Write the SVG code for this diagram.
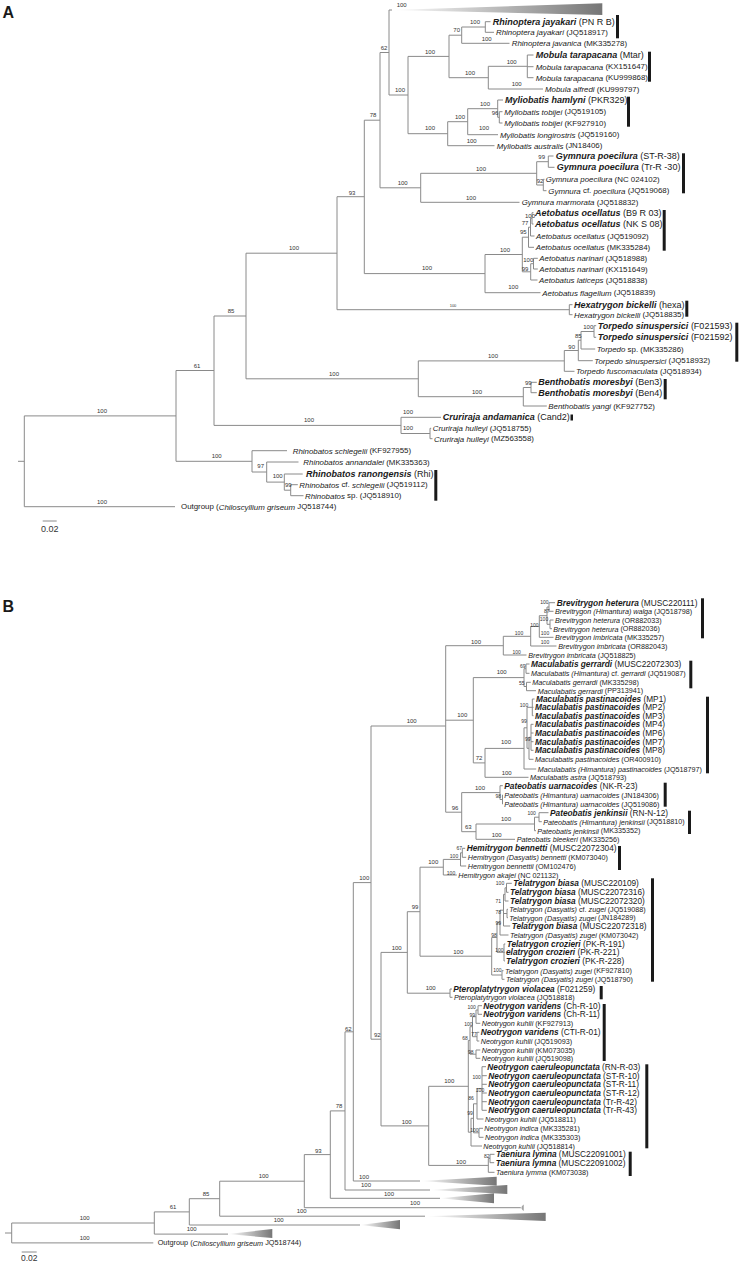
<svg xmlns="http://www.w3.org/2000/svg" width="741" height="1264" viewBox="0 0 741 1264">
<defs>
<linearGradient id="g" x1="0" y1="0" x2="1" y2="0"><stop offset="0" stop-color="#ffffff"/><stop offset="1" stop-color="#767676"/></linearGradient>
<style>
.e{fill:none;stroke:#8a8a8a;stroke-width:1}
text{font-family:"Liberation Sans",Arial,sans-serif;fill:#1a1a1a;dominant-baseline:central}
.la{font-size:7.9px}
.lab{font-size:9px}
.lb{font-size:7.2px}
.lbb{font-size:8.3px}
.i{font-style:italic}
.bi{font-style:italic;font-weight:bold}
.n{font-size:6px;fill:#333;text-anchor:middle}
.ns{font-size:5px;fill:#333;text-anchor:middle}
.nt{font-size:4px;fill:#333;text-anchor:middle}
.bar{fill:#1a1a1a}
.tri{fill:url(#g);stroke:none}
.pl{font-size:16px;font-weight:bold;dominant-baseline:auto}
.sc{font-size:9px;fill:#333;text-anchor:middle}
</style>
</defs>
<rect width="741" height="1264" fill="#ffffff"/>
<text class="pl" x="2.5" y="18">A</text>
<text class="pl" x="2.5" y="612">B</text>

<g id="A-edges">
<path class="e" d="M18 461.3H24.3M24.3 415.9V506.7M24.3 415.9H176M24.3 506.7H175"/>
<path class="e" d="M176 370.5V461.3M176 370.5H214M176 461.3H252"/>
<path class="e" d="M214 316V425.4M214 316H246M214 425.4H401"/>
<path class="e" d="M246 253.2V378.8M246 253.2H337M246 378.8H418.3"/>
<path class="e" d="M337 196.7V309.7M337 196.7H364.3M337 309.7H569.3"/>
<path class="e" d="M364.3 120.2V273.6M364.3 120.2H380M364.3 273.6H485"/>
<path class="e" d="M380 52.5V187.8M380 52.5H389M380 187.8H420.7"/>
<path class="e" d="M389 10V95M389 10H392M389 95H408"/>
<path class="e" d="M408 56.4V133.7M408 56.4H449M408 133.7H447.7"/>
<path class="e" d="M449 35.2V77.7M449 35.2H461.7M449 77.7H488.3"/>
<path class="e" d="M461.7 27V43.3M461.7 27H485.3M461.7 43.3H509.5"/>
<path class="e" d="M485.3 21.7V32.3M485.3 21.7H490.5M485.3 32.3H494"/>
<path class="e" d="M488.3 66.3V89M488.3 66.3H527.3M488.3 89H543"/>
<path class="e" d="M527.3 55V77.7M527.3 55H533.5M527.3 66.7H533.5M527.3 77.7H533.5"/>
<path class="e" d="M447.7 121.7V145.7M447.7 121.7H467.7M447.7 145.7H494.5"/>
<path class="e" d="M467.7 108.7V134.7M467.7 108.7H497.7M467.7 134.7H498"/>
<path class="e" d="M497.7 100V117.3M497.7 100H503M497.7 117.3H499.3"/>
<path class="e" d="M499.3 111.7V123M499.3 111.7H502.5M499.3 123H502.5"/>
<path class="e" d="M420.7 173.3V202.3M420.7 173.3H536.7M420.7 202.3H519.5"/>
<path class="e" d="M536.7 161.7V185M536.7 161.7H548.3M536.7 185H543.3"/>
<path class="e" d="M548.3 156V167.3M548.3 156H553.5M548.3 167.3H554.5"/>
<path class="e" d="M543.3 179.3V190.7M543.3 179.3H544.5M543.3 190.7H546.5"/>
<path class="e" d="M485 254.5V292.7M485 254.5H522.3M485 292.7H540.5"/>
<path class="e" d="M522.3 237.2V271.8M522.3 237.2H528.5M522.3 271.8H530.7"/>
<path class="e" d="M528.5 227.2V247.3M528.5 227.2H530.5M528.5 247.3H534"/>
<path class="e" d="M530.5 218.3V236M530.5 218.3H532M530.5 236H534.5"/>
<path class="e" d="M532 212.7V224M532 212.7H533.5M532 224H533.5"/>
<path class="e" d="M530.7 263.7V280M530.7 263.7H533.5M530.7 280H537.5"/>
<path class="e" d="M533.5 258.3V269M533.5 258.3H537.8M533.5 269H537.8"/>
<path class="e" d="M569.3 304.7V314.7M569.3 304.7H572.5M569.3 314.7H572.5"/>
<path class="e" d="M418.3 360.9V396.7M418.3 360.9H564.3M418.3 396.7H523.3"/>
<path class="e" d="M564.3 350.5V371.3M564.3 350.5H578.3M564.3 371.3H574.5"/>
<path class="e" d="M578.3 340.2V360.7M578.3 340.2H581M578.3 360.7H592.8"/>
<path class="e" d="M581 331.5V349M581 331.5H594M581 349H595.2"/>
<path class="e" d="M594 325.7V337.3M594 325.7H596.2M594 337.3H596.2"/>
<path class="e" d="M523.3 387.5V406M523.3 387.5H531M523.3 406H546.8"/>
<path class="e" d="M531 382.3V392.7M531 382.3H536.8M531 392.7H536.8"/>
<path class="e" d="M401 417.3V433.5M401 417.3H441M401 433.5H430"/>
<path class="e" d="M430 428.3V438.7M430 428.3H431.2M430 438.7H432.5"/>
<path class="e" d="M252 450.7V472M252 450.7H287M252 472H266.7"/>
<path class="e" d="M266.7 462V482.1M266.7 462H298.5M266.7 482.1H284.3"/>
<path class="e" d="M284.3 474V490.2M284.3 474H302.7M284.3 490.2H290.7"/>
<path class="e" d="M290.7 484.7V495.7M290.7 484.7H297.8M290.7 495.7H303.5"/>
<polygon class="tri" points="391,10 602.3,3.3 602.3,15"/>
<path class="e" d="M42.7 521H56.7"/>
</g>

<g id="A-supports">
<text class="n" x="401.7" y="5">100</text>
<text class="n" x="475" y="22.3">100</text>
<text class="n" x="456.7" y="30">70</text>
<text class="n" x="486.7" y="39">100</text>
<text class="n" x="384" y="47.7">62</text>
<text class="n" x="430" y="51.7">100</text>
<text class="n" x="511.7" y="61.7">100</text>
<text class="n" x="470" y="72.7">100</text>
<text class="n" x="516.7" y="84.3">100</text>
<text class="n" x="400" y="90">100</text>
<text class="n" x="485" y="104">100</text>
<text class="n" x="495" y="113.3">96</text>
<text class="n" x="373" y="115.4">78</text>
<text class="n" x="460" y="116.7">100</text>
<text class="n" x="484" y="128.3">100</text>
<text class="n" x="430" y="128.3">100</text>
<text class="n" x="471.7" y="140.7">100</text>
<text class="n" x="541.7" y="157.3">99</text>
<text class="n" x="481" y="169">100</text>
<text class="n" x="540" y="180.7">92</text>
<text class="n" x="402.7" y="183.3">100</text>
<text class="n" x="352" y="192.5">93</text>
<text class="n" x="471" y="197.7">100</text>
<text class="n" x="530" y="215.7">100</text>
<text class="n" x="525" y="223.3">77</text>
<text class="n" x="523.3" y="231.7">95</text>
<text class="n" x="294" y="248.2">100</text>
<text class="n" x="505" y="250">100</text>
<text class="n" x="528.3" y="260">100</text>
<text class="n" x="427" y="268.3">100</text>
<text class="n" x="525" y="269.3">99</text>
<text class="n" x="513.3" y="287.3">100</text>
<text class="nt" x="453" y="305">100</text>
<text class="n" x="588.3" y="327.3">100</text>
<text class="n" x="578.3" y="335.7">85</text>
<text class="n" x="571.7" y="346.7">90</text>
<text class="n" x="493" y="356">100</text>
<text class="n" x="231" y="311">85</text>
<text class="n" x="197" y="365.6">61</text>
<text class="n" x="334" y="373.5">100</text>
<text class="n" x="528.3" y="383.3">99</text>
<text class="n" x="477" y="392">100</text>
<text class="n" x="102" y="411">100</text>
<text class="n" x="408" y="412">100</text>
<text class="n" x="309" y="420">100</text>
<text class="n" x="408" y="427.7">100</text>
<text class="n" x="216.7" y="456">100</text>
<text class="n" x="260.7" y="466.4">97</text>
<text class="n" x="277.7" y="476.3">100</text>
<text class="n" x="288.3" y="484.6">99</text>
<text class="n" x="102" y="502">100</text>
<text class="sc" x="49.7" y="529">0.02</text>
</g>

<g id="A-bars">
<rect class="bar" x="616" y="15" width="3" height="23.3"/>
<rect class="bar" x="648" y="51.7" width="3" height="30"/>
<rect class="bar" x="627" y="96.7" width="3" height="30"/>
<rect class="bar" x="682" y="153.3" width="3" height="40"/>
<rect class="bar" x="662.7" y="210" width="3" height="40.7"/>
<rect class="bar" x="685.3" y="300.7" width="3" height="16"/>
<rect class="bar" x="735.3" y="322.7" width="3" height="39"/>
<rect class="bar" x="663.7" y="379" width="3" height="20.3"/>
<rect class="bar" x="570.5" y="414.5" width="2.5" height="6"/>
<rect class="bar" x="434.3" y="470" width="3" height="30.7"/>
</g>

<g id="A-leaves">
<g id="A-l01"><text class="lab" x="492.7" y="21.7"><tspan class="bi">Rhinoptera jayakari</tspan> (PN R B)</text></g>
<g id="A-l02"><text class="la" x="496" y="32.3"><tspan class="i">Rhinoptera jayakari</tspan> (JQ518917)</text></g>
<g id="A-l03"><text class="la" x="511.7" y="43.3"><tspan class="i">Rhinoptera javanica</tspan> (MK335278)</text></g>
<g id="A-l04"><text class="lab" x="535.7" y="55"><tspan class="bi">Mobula tarapacana</tspan> (Mtar)</text></g>
<g id="A-l05"><text class="la" x="535.7" y="66.7"><tspan class="i">Mobula tarapacana</tspan> (KX151647)</text></g>
<g id="A-l06"><text class="la" x="535.7" y="77.7"><tspan class="i">Mobula tarapacana</tspan> (KU999868)</text></g>
<g id="A-l07"><text class="la" x="545" y="89"><tspan class="i">Mobula alfredi</tspan> (KU999797)</text></g>
<g id="A-l08"><text class="lab" x="505" y="100"><tspan class="bi">Myliobatis hamlyni</tspan> (PKR329)</text></g>
<g id="A-l09"><text class="la" x="504.3" y="111.7"><tspan class="i">Myliobatis tobijei</tspan> (JQ519105)</text></g>
<g id="A-l10"><text class="la" x="504.3" y="123"><tspan class="i">Myliobatis tobijei</tspan> (KF927910)</text></g>
<g id="A-l11"><text class="la" x="500" y="134.7"><tspan class="i">Myliobatis longirostris</tspan> (JQ519160)</text></g>
<g id="A-l12"><text class="la" x="496.7" y="145.7"><tspan class="i">Myliobatis australis</tspan> (JN18406)</text></g>
<g id="A-l13"><text class="lab" x="555.7" y="156"><tspan class="bi">Gymnura poecilura</tspan> (ST-R-38)</text></g>
<g id="A-l14"><text class="lab" x="556.7" y="167.3"><tspan class="bi">Gymnura poecilura</tspan> (Tr-R -30)</text></g>
<g id="A-l15"><text class="la" x="545.7" y="179.3"><tspan class="i">Gymnura poecilura</tspan> (NC 024102)</text></g>
<g id="A-l16"><text class="la" x="548.3" y="190.7"><tspan class="i">Gymnura</tspan> cf. <tspan class="i">poecilura</tspan> (JQ519068)</text></g>
<g id="A-l17"><text class="la" x="521.7" y="202.3"><tspan class="i">Gymnura marmorata</tspan> (JQ518832)</text></g>
<g id="A-l18"><text class="lab" x="535" y="212.7"><tspan class="bi">Aetobatus ocellatus</tspan> (B9 R 03)</text></g>
<g id="A-l19"><text class="lab" x="535" y="224"><tspan class="bi">Aetobatus ocellatus</tspan> (NK S 08)</text></g>
<g id="A-l20"><text class="la" x="536" y="236"><tspan class="i">Aetobatus ocellatus</tspan> (JQ519092)</text></g>
<g id="A-l21"><text class="la" x="535.7" y="247.3"><tspan class="i">Aetobatus ocellatus</tspan> (MK335284)</text></g>
<g id="A-l22"><text class="la" x="539.3" y="258.3"><tspan class="i">Aetobatus narinari</tspan> (JQ518988)</text></g>
<g id="A-l23"><text class="la" x="539.3" y="269"><tspan class="i">Aetobatus narinari</tspan> (KX151649)</text></g>
<g id="A-l24"><text class="la" x="539" y="280"><tspan class="i">Aetobatus laticeps</tspan> (JQ518838)</text></g>
<g id="A-l25"><text class="la" x="542.3" y="292.7"><tspan class="i">Aetobatus flagellum</tspan> (JQ518839)</text></g>
<g id="A-l26"><text class="lab" x="574" y="304.7"><tspan class="bi">Hexatrygon bickelli</tspan> (hexa)</text></g>
<g id="A-l27"><text class="la" x="574" y="314.7"><tspan class="i">Hexatrygon bickelli</tspan> (JQ518835)</text></g>
<g id="A-l28"><text class="lab" x="597.7" y="325.7"><tspan class="bi">Torpedo sinuspersici</tspan> (F021593)</text></g>
<g id="A-l29"><text class="lab" x="597.7" y="337.3"><tspan class="bi">Torpedo sinuspersici</tspan> (F021592)</text></g>
<g id="A-l30"><text class="la" x="596.7" y="349"><tspan class="i">Torpedo</tspan> sp. (MK335286)</text></g>
<g id="A-l31"><text class="la" x="594.3" y="360.7"><tspan class="i">Torpedo sinuspersici</tspan> (JQ518932)</text></g>
<g id="A-l32"><text class="la" x="576" y="371.3"><tspan class="i">Torpedo fuscomaculata</tspan> (JQ518934)</text></g>
<g id="A-l33"><text class="lab" x="538.3" y="382.3"><tspan class="bi">Benthobatis moresbyi</tspan> (Ben3)</text></g>
<g id="A-l34"><text class="lab" x="538.3" y="392.7"><tspan class="bi">Benthobatis moresbyi</tspan> (Ben4)</text></g>
<g id="A-l35"><text class="la" x="548.3" y="406"><tspan class="i">Benthobatis yangi</tspan> (KF927752)</text></g>
<g id="A-l36"><text class="lab" x="442.7" y="417.3"><tspan class="bi">Cruriraja andamanica</tspan> (Cand2)</text></g>
<g id="A-l37"><text class="la" x="432.7" y="428.3"><tspan class="i">Cruriraja hulleyi</tspan> (JQ518755)</text></g>
<g id="A-l38"><text class="la" x="434" y="438.7"><tspan class="i">Cruriraja hulleyi</tspan> (MZ563558)</text></g>
<g id="A-l39"><text class="la" x="292.7" y="450.7"><tspan class="i">Rhinobatos schlegelii</tspan> (KF927955)</text></g>
<g id="A-l40"><text class="la" x="303.3" y="462"><tspan class="i">Rhinobatos annandalei</tspan> (MK335363)</text></g>
<g id="A-l41"><text class="lab" x="306" y="474"><tspan class="bi">Rhinobatos ranongensis</tspan> (Rhi)</text></g>
<g id="A-l42"><text class="la" x="299.3" y="484.7"><tspan class="i">Rhinobatos</tspan> cf. <tspan class="i">schlegelii</tspan> (JQ519112)</text></g>
<g id="A-l43"><text class="la" x="305" y="495.7"><tspan class="i">Rhinobatos</tspan> sp. (JQ518910)</text></g>
<g id="A-l44"><text class="la" x="181" y="506.7">Outgroup (<tspan class="i">Chiloscyllium griseum</tspan> JQ518744)</text></g>
</g>

<g id="B-edges">
<path class="e" d="M5 1233H11.7M11.7 1223V1242.9M11.7 1223H154.3M11.7 1242.9H153.3"/>
<path class="e" d="M154.3 1211.9V1234.1M154.3 1211.9H189.3M154.3 1234.1H228"/>
<path class="e" d="M189.3 1198.7V1225M189.3 1198.7H219.7M189.3 1225H360"/>
<path class="e" d="M219.7 1181.2V1216.2M219.7 1181.2H304.3M219.7 1216.2H425"/>
<path class="e" d="M304.3 1154.6V1207.7M304.3 1154.6H330.3M304.3 1207.7H521"/>
<path class="e" d="M330.3 1110.9V1198.3M330.3 1110.9H345M330.3 1198.3H440"/>
<path class="e" d="M345 1031.8V1190M345 1031.8H353.3M345 1190H430"/>
<path class="e" d="M353.3 882.6V1181M353.3 882.6H371M353.3 1181H420"/>
<path class="e" d="M371 726V1039.2M371 726H445.7M371 1039.2H381"/>
<path class="e" d="M381 952.4V1125.9M381 952.4H407.3M381 1125.9H428.7"/>
<path class="e" d="M445.7 645.7V812.2M445.7 645.7H503.3M445.7 720.2H473.3M445.7 812.2H461.7"/>
<path class="e" d="M503.3 636.3V655M503.3 636.3H530.7M503.3 655H526.5"/>
<path class="e" d="M530.7 626.5V646M530.7 626.5H539.3M530.7 646H556.5"/>
<path class="e" d="M539.3 615.7V637.3M539.3 615.7H547M539.3 637.3H553.5"/>
<path class="e" d="M547 607V624.3M547 607H549M547 624.3H550"/>
<path class="e" d="M549 602.7V611.3M549 602.7H555M549 611.3H553.5"/>
<path class="e" d="M550 620V628.7M550 620H553.5M550 628.7H552"/>
<path class="e" d="M473.3 677.6V762.9M473.3 677.6H524M473.3 762.9H485"/>
<path class="e" d="M524 668.7V686.5M524 668.7H526M524 686.5H526.5"/>
<path class="e" d="M526 664V673.3M526 664H529.5M526 673.3H529.5"/>
<path class="e" d="M526.5 682.3V690.7M526.5 682.3H530.8M526.5 690.7H536"/>
<path class="e" d="M485 748.4V777.3M485 748.4H524M485 777.3H528.5"/>
<path class="e" d="M524 727.8V769M524 727.8H527M524 769H536.2"/>
<path class="e" d="M527 707.3V748.3M527 707.3H532.3M527 748.3H529"/>
<path class="e" d="M532.3 699V715.7M532.3 699H534.5M532.3 707.3H533.5M532.3 715.7H533.5"/>
<path class="e" d="M529 737.3V759.3M529 737.3H531M529 759.3H533.5"/>
<path class="e" d="M531 724.3V750.3M531 724.3H533.5M531 733H533.5M531 741.7H533.5M531 750.3H533.5"/>
<path class="e" d="M461.7 792.6V831.7M461.7 792.6H500M461.7 831.7H476"/>
<path class="e" d="M500 785.7V799.5M500 785.7H502.8M500 799.5H502.5"/>
<path class="e" d="M502.5 795V804M502.5 795H503M502.5 804H503"/>
<path class="e" d="M476 824V839.3M476 824H534.5M476 839.3H515"/>
<path class="e" d="M534.5 817.2V830.7M534.5 817.2H539M534.5 830.7H536"/>
<path class="e" d="M539 812.7V821.7M539 812.7H548.5M539 821.7H541.8"/>
<path class="e" d="M407.3 911.7V993.2M407.3 911.7H420M407.3 993.2H450"/>
<path class="e" d="M450 989V997.3M450 989H452M450 997.3H452.5"/>
<path class="e" d="M420 867.2V956.2M420 867.2H443.3M420 956.2H491.7"/>
<path class="e" d="M443.3 859.4V875M443.3 859.4H460.5M443.3 875H456.8"/>
<path class="e" d="M460.5 852.8V866M460.5 852.8H462.3M460.5 866H466.2"/>
<path class="e" d="M462.3 848.3V857.3M462.3 848.3H465.2M462.3 857.3H466.2"/>
<path class="e" d="M491.7 937.5V975M491.7 937.5H497M491.7 975H502"/>
<path class="e" d="M497 922.6V952.3M497 922.6H500M497 952.3H504"/>
<path class="e" d="M500 910.2V935M500 910.2H503.5M500 935H508.5"/>
<path class="e" d="M503.5 894.4V926M503.5 894.4H505M503.5 913.5H507M503.5 926H510.2"/>
<path class="e" d="M505 887.8V901M505 887.8H506.5M505 901H508.5"/>
<path class="e" d="M506.5 883.3V892.3M506.5 883.3H511.8M506.5 892.3H508.5"/>
<path class="e" d="M507 909.3V917.7M507 909.3H508M507 917.7H508"/>
<path class="e" d="M504 944V961M504 944H505.3M504 952.3H504.8M504 961H504.8"/>
<path class="e" d="M502 970.7V979.3M502 970.7H503.5M502 979.3H504.5"/>
<path class="e" d="M428.7 1086.3V1165.4M428.7 1086.3H468.3M428.7 1165.4H488.3"/>
<path class="e" d="M468.3 1040.4V1132.2M468.3 1040.4H470M468.3 1132.2H471"/>
<path class="e" d="M470 1026.7V1054.2M470 1026.7H472.5M470 1054.2H476"/>
<path class="e" d="M472.5 1016.7V1036.7M472.5 1016.7H476M472.5 1036.7H477"/>
<path class="e" d="M476 1010V1023.3M476 1010H478M476 1023.3H480.3"/>
<path class="e" d="M478 1005.7V1014.3M478 1005.7H482M478 1014.3H482"/>
<path class="e" d="M477 1032.3V1041M477 1032.3H479.3M477 1041H479.3"/>
<path class="e" d="M476 1050V1058.3M476 1050H480.3M476 1058.3H480.3"/>
<path class="e" d="M471 1118.3V1146M471 1118.3H473.5M471 1146H482"/>
<path class="e" d="M473.5 1103.8V1132.8M473.5 1103.8H477M473.5 1132.8H479"/>
<path class="e" d="M477 1088.5V1119M477 1088.5H482M477 1119H483.5"/>
<path class="e" d="M479 1128.3V1137.3M479 1128.3H483M479 1137.3H483.5"/>
<path class="e" d="M482 1066.7V1110.3M482 1066.7H486M482 1075.7H486.8M482 1084.3H486.8M482 1093H486.8M482 1101.7H486.8M482 1110.3H486.8"/>
<path class="e" d="M488.3 1158.5V1172.3M488.3 1158.5H490M488.3 1172.3H494.5"/>
<path class="e" d="M490 1154.3V1162.7M490 1154.3H494.5M490 1162.7H494.2"/>
<polygon class="tri" points="420,1181 496.7,1176.7 496.7,1185.7"/>
<polygon class="tri" points="430,1190 507.3,1185 507.3,1194"/>
<polygon class="tri" points="440,1198.3 494,1193.3 494,1203.3"/>
<polygon class="tri" points="520.5,1207.7 523.5,1204.5 523.5,1211"/>
<polygon class="tri" points="425,1216.2 545.7,1212.7 545.7,1221"/>
<polygon class="tri" points="360,1225 400,1220 400,1229.3"/>
<polygon class="tri" points="228,1234.1 272.3,1229 272.3,1238"/>
<path class="e" d="M21.7 1252H36.7"/>
</g>

<g id="B-supports">
<text class="n" x="476" y="641.7">100</text>
<text class="ns" x="544.3" y="601.5">100</text>
<text class="ns" x="546.7" y="610.5">87</text>
<text class="ns" x="544" y="618.8">100</text>
<text class="ns" x="534.3" y="624.5">100</text>
<text class="ns" x="545" y="633.3">100</text>
<text class="ns" x="519" y="633.3">100</text>
<text class="ns" x="545" y="641.7">100</text>
<text class="ns" x="516.7" y="651.5">100</text>
<text class="ns" x="522.7" y="665.7">69</text>
<text class="ns" x="521.7" y="682.7">55</text>
<text class="n" x="501.7" y="672.3">100</text>
<text class="n" x="462.3" y="715">100</text>
<text class="n" x="411.7" y="721">100</text>
<text class="ns" x="524" y="705">100</text>
<text class="ns" x="524" y="721">99</text>
<text class="ns" x="527.7" y="739.3">99</text>
<text class="n" x="506" y="742.3">100</text>
<text class="n" x="479" y="758.3">72</text>
<text class="n" x="506.7" y="773.3">100</text>
<text class="n" x="480" y="788.3">100</text>
<text class="ns" x="498.3" y="796">98</text>
<text class="n" x="455" y="807.7">96</text>
<text class="ns" x="531.7" y="813.3">100</text>
<text class="n" x="506" y="819.3">100</text>
<text class="n" x="468.3" y="826.7">63</text>
<text class="n" x="496.7" y="835">100</text>
<text class="ns" x="459.3" y="847.5">67</text>
<text class="ns" x="454" y="855.5">100</text>
<text class="n" x="433.3" y="861.7">100</text>
<text class="ns" x="451" y="872.7">100</text>
<text class="n" x="364.3" y="878">100</text>
<text class="ns" x="500" y="883">100</text>
<text class="ns" x="498.3" y="901.3">71</text>
<text class="n" x="415" y="907.3">99</text>
<text class="ns" x="498.3" y="912">78</text>
<text class="ns" x="498.3" y="922.7">99</text>
<text class="ns" x="494" y="935">98</text>
<text class="n" x="396.7" y="947.6">100</text>
<text class="ns" x="499.3" y="950">100</text>
<text class="n" x="458.3" y="951.7">100</text>
<text class="ns" x="497.3" y="970">100</text>
<text class="n" x="430.7" y="988.3">100</text>
<text class="ns" x="471.7" y="1006.7">100</text>
<text class="ns" x="472.3" y="1015">99</text>
<text class="ns" x="468.3" y="1024">100</text>
<text class="n" x="348.3" y="1028.8">62</text>
<text class="ns" x="474" y="1033.7">77</text>
<text class="n" x="377.3" y="1034.7">92</text>
<text class="ns" x="465" y="1037.7">68</text>
<text class="ns" x="470.7" y="1051.7">98</text>
<text class="ns" x="476.7" y="1077.3">100</text>
<text class="n" x="449.3" y="1081">100</text>
<text class="ns" x="480" y="1090">100</text>
<text class="ns" x="471" y="1097.7">86</text>
<text class="n" x="339" y="1106.4">78</text>
<text class="ns" x="470" y="1113.3">99</text>
<text class="n" x="406.7" y="1121.7">100</text>
<text class="ns" x="474.3" y="1130">100</text>
<text class="n" x="318.3" y="1150.5">93</text>
<text class="ns" x="486.7" y="1156">82</text>
<text class="n" x="461" y="1161.7">100</text>
<text class="n" x="364" y="1176.5">100</text>
<text class="n" x="263.7" y="1176.4">100</text>
<text class="n" x="366" y="1185.3">100</text>
<text class="n" x="389" y="1194">100</text>
<text class="n" x="206" y="1194">85</text>
<text class="n" x="415" y="1203.3">100</text>
<text class="n" x="173" y="1207">61</text>
<text class="n" x="301.7" y="1211.4">100</text>
<text class="n" x="84.7" y="1218.2">100</text>
<text class="n" x="278.7" y="1220.2">100</text>
<text class="n" x="191.7" y="1229">100</text>
<text class="n" x="84.7" y="1237.7">100</text>
<text class="sc" x="29.2" y="1257.6" style="font-size:8.5px">0.02</text>
</g>

<g id="B-bars">
<rect class="bar" x="701" y="598.3" width="3" height="40"/>
<rect class="bar" x="689.3" y="660.7" width="3" height="27.6"/>
<rect class="bar" x="706" y="696.7" width="3" height="76.6"/>
<rect class="bar" x="663.7" y="782.7" width="3" height="24"/>
<rect class="bar" x="688" y="810.7" width="3" height="23.3"/>
<rect class="bar" x="618" y="846" width="3" height="24"/>
<rect class="bar" x="651" y="878.3" width="3" height="103.4"/>
<rect class="bar" x="599.7" y="986" width="3" height="13.3"/>
<rect class="bar" x="602.7" y="1004" width="3" height="57"/>
<rect class="bar" x="645.3" y="1064.3" width="3" height="84"/>
<rect class="bar" x="628.7" y="1151.7" width="3" height="24.3"/>
</g>

<g id="B-leaves">
<g id="B-l01"><text class="lbb" x="556.7" y="602.7"><tspan class="bi">Brevitrygon heterura</tspan> (MUSC220111)</text></g>
<g id="B-l02"><text class="lb" x="555" y="611.3"><tspan class="i">Brevitrygon (Himantura) walga</tspan> (JQ518798)</text></g>
<g id="B-l03"><text class="lb" x="555" y="620"><tspan class="i">Brevitrygon heterura</tspan> (OR882033)</text></g>
<g id="B-l04"><text class="lb" x="553.3" y="628.7"><tspan class="i">Brevitrygon heterura</tspan> (OR882036)</text></g>
<g id="B-l05"><text class="lb" x="555" y="637.3"><tspan class="i">Brevitrygon imbricata</tspan> (MK335257)</text></g>
<g id="B-l06"><text class="lb" x="558.3" y="646"><tspan class="i">Brevitrygon imbricata</tspan> (OR882043)</text></g>
<g id="B-l07"><text class="lb" x="528.3" y="655"><tspan class="i">Brevitrygon imbricata</tspan> (JQ518825)</text></g>
<g id="B-l08"><text class="lbb" x="531" y="664"><tspan class="bi">Maculabatis gerrardi</tspan> (MUSC22072303)</text></g>
<g id="B-l09"><text class="lb" x="531" y="673.3"><tspan class="i">Maculabatis (Himantura)</tspan> cf. <tspan class="i">gerrardi</tspan> (JQ519087)</text></g>
<g id="B-l10"><text class="lb" x="532.3" y="682.3"><tspan class="i">Maculabatis gerrardi</tspan> (MK335298)</text></g>
<g id="B-l11"><text class="lb" x="537.7" y="690.7"><tspan class="i">Maculabatis gerrardi</tspan> (PP313941)</text></g>
<g id="B-l12"><text class="lbb" x="536" y="699"><tspan class="bi">Maculabatis pastinacoides</tspan> (MP1)</text></g>
<g id="B-l13"><text class="lbb" x="535" y="707.3"><tspan class="bi">Maculabatis pastinacoides</tspan> (MP2)</text></g>
<g id="B-l14"><text class="lbb" x="535" y="715.7"><tspan class="bi">Maculabatis pastinacoides</tspan> (MP3)</text></g>
<g id="B-l15"><text class="lbb" x="535" y="724.3"><tspan class="bi">Maculabatis pastinacoides</tspan> (MP4)</text></g>
<g id="B-l16"><text class="lbb" x="535" y="733"><tspan class="bi">Maculabatis pastinacoides</tspan> (MP6)</text></g>
<g id="B-l17"><text class="lbb" x="535" y="741.7"><tspan class="bi">Maculabatis pastinacoides</tspan> (MP7)</text></g>
<g id="B-l18"><text class="lbb" x="535" y="750.3"><tspan class="bi">Maculabatis pastinacoides</tspan> (MP8)</text></g>
<g id="B-l19"><text class="lb" x="535" y="759.3"><tspan class="i">Maculabatis pastinacoides</tspan> (OR400910)</text></g>
<g id="B-l20"><text class="lb" x="537.7" y="769"><tspan class="i">Maculabatis (Himantura) pastinacoides</tspan> (JQ518797)</text></g>
<g id="B-l21"><text class="lb" x="530" y="777.3"><tspan class="i">Maculabatis astra</tspan> (JQ518793)</text></g>
<g id="B-l22"><text class="lbb" x="504.3" y="785.7"><tspan class="bi">Pateobatis uarnacoides</tspan> (NK-R-23)</text></g>
<g id="B-l23"><text class="lb" x="504.3" y="795"><tspan class="i">Pateobatis (Himantura) uarnacoides</tspan> (JN184306)</text></g>
<g id="B-l24"><text class="lb" x="504.3" y="804"><tspan class="i">Pateobatis (Himantura) uarnacoides</tspan> (JQ519086)</text></g>
<g id="B-l25"><text class="lbb" x="550" y="812.7"><tspan class="bi">Pateobatis jenkinsii</tspan> (RN-N-12)</text></g>
<g id="B-l26"><text class="lb" x="543.3" y="821.7"><tspan class="i">Pateobatis (Himantura) jenkinsii</tspan> (JQ518810)</text></g>
<g id="B-l27"><text class="lb" x="537.3" y="830.7"><tspan class="i">Pateobatis jenkinsii</tspan> (MK335352)</text></g>
<g id="B-l28"><text class="lb" x="516.7" y="839.3"><tspan class="i">Pateobatis bleekeri</tspan> (MK335256)</text></g>
<g id="B-l29"><text class="lbb" x="466.7" y="848.3"><tspan class="bi">Hemitrygon bennetti</tspan> (MUSC22072304)</text></g>
<g id="B-l30"><text class="lb" x="467.7" y="857.3"><tspan class="i">Hemitrygon (Dasyatis) bennetti</tspan> (KM073040)</text></g>
<g id="B-l31"><text class="lb" x="467.7" y="866"><tspan class="i">Hemitrygon bennettii</tspan> (OM102476)</text></g>
<g id="B-l32"><text class="lb" x="458.3" y="875"><tspan class="i">Hemitrygon akajei</tspan> (NC 021132)</text></g>
<g id="B-l33"><text class="lbb" x="513.3" y="883.3"><tspan class="bi">Telatrygon biasa</tspan> (MUSC220109)</text></g>
<g id="B-l34"><text class="lbb" x="510" y="892.3"><tspan class="bi">Telatrygon biasa</tspan> (MUSC22072316)</text></g>
<g id="B-l35"><text class="lbb" x="510" y="901"><tspan class="bi">Telatrygon biasa</tspan> (MUSC22072320)</text></g>
<g id="B-l36"><text class="lb" x="509.3" y="909.3"><tspan class="i">Telatrygon (Dasyatis)</tspan> cf. <tspan class="i">zugei</tspan> (JQ519088)</text></g>
<g id="B-l37"><text class="lb" x="509.3" y="917.7"><tspan class="i">Telatrygon (Dasyatis) zugei</tspan> (JN184289)</text></g>
<g id="B-l38"><text class="lbb" x="511.7" y="926"><tspan class="bi">Telatrygon biasa</tspan> (MUSC22072318)</text></g>
<g id="B-l39"><text class="lb" x="510" y="935"><tspan class="i">Telatrygon (Dasyatis) zugei</tspan> (KM073042)</text></g>
<g id="B-l40"><text class="lbb" x="506.7" y="944"><tspan class="bi">Telatrygon crozieri</tspan> (PK-R-191)</text></g>
<g id="B-l41"><text class="lbb" x="506" y="952.3"><tspan class="bi">elatrygon crozieri</tspan> (PK-R-221)</text></g>
<g id="B-l42"><text class="lbb" x="506" y="961"><tspan class="bi">Telatrygon crozieri</tspan> (PK-R-228)</text></g>
<g id="B-l43"><text class="lb" x="505" y="970.7"><tspan class="i">Telatrygon (Dasyatis) zugei</tspan> (KF927810)</text></g>
<g id="B-l44"><text class="lb" x="506" y="979.3"><tspan class="i">Telatrygon (Dasyatis) zugei</tspan> (JQ518790)</text></g>
<g id="B-l45"><text class="lbb" x="453.3" y="989"><tspan class="bi">Pteroplatytrygon violacea</tspan> (F021259)</text></g>
<g id="B-l46"><text class="lb" x="454" y="997.3"><tspan class="i">Pteroplatytrygon violacea</tspan> (JQ518818)</text></g>
<g id="B-l47"><text class="lbb" x="483.3" y="1005.7"><tspan class="bi">Neotrygon varidens</tspan> (Ch-R-10)</text></g>
<g id="B-l48"><text class="lbb" x="483.3" y="1014.3"><tspan class="bi">Neotrygon varidens</tspan> (Ch-R-11)</text></g>
<g id="B-l49"><text class="lb" x="481.7" y="1023.3"><tspan class="i">Neotrygon kuhlii</tspan> (KF927913)</text></g>
<g id="B-l50"><text class="lbb" x="480.7" y="1032.3"><tspan class="bi">Neotrygon varidens</tspan> (CTI-R-01)</text></g>
<g id="B-l51"><text class="lb" x="480.7" y="1041"><tspan class="i">Neotrygon kuhlii</tspan> (JQ519093)</text></g>
<g id="B-l52"><text class="lb" x="481.7" y="1050"><tspan class="i">Neotrygon kuhlii</tspan> (KM073035)</text></g>
<g id="B-l53"><text class="lb" x="481.7" y="1058.3"><tspan class="i">Neotrygon kuhlii</tspan> (JQ519098)</text></g>
<g id="B-l54"><text class="lbb" x="487.3" y="1066.7"><tspan class="bi">Neotrygon caeruleopunctata</tspan> (RN-R-03)</text></g>
<g id="B-l55"><text class="lbb" x="488.3" y="1075.7"><tspan class="bi">Neotrygon caeruleopunctata</tspan> (ST-R-10)</text></g>
<g id="B-l56"><text class="lbb" x="488.3" y="1084.3"><tspan class="bi">Neotrygon caeruleopunctata</tspan> (ST-R-11)</text></g>
<g id="B-l57"><text class="lbb" x="488.3" y="1093"><tspan class="bi">Neotrygon caeruleopunctata</tspan> (ST-R-12)</text></g>
<g id="B-l58"><text class="lbb" x="488.3" y="1101.7"><tspan class="bi">Neotrygon caeruleopunctata</tspan> (Tr-R-42)</text></g>
<g id="B-l59"><text class="lbb" x="488.3" y="1110.3"><tspan class="bi">Neotrygon caeruleopunctata</tspan> (Tr-R-43)</text></g>
<g id="B-l60"><text class="lb" x="485" y="1119"><tspan class="i">Neotrygon kuhlii</tspan> (JQ518811)</text></g>
<g id="B-l61"><text class="lb" x="484.3" y="1128.3"><tspan class="i">Neotrygon indica</tspan> (MK335281)</text></g>
<g id="B-l62"><text class="lb" x="485" y="1137.3"><tspan class="i">Neotrygon indica</tspan> (MK335303)</text></g>
<g id="B-l63"><text class="lb" x="483.3" y="1146"><tspan class="i">Neotrygon kuhlii</tspan> (JQ518814)</text></g>
<g id="B-l64"><text class="lbb" x="496" y="1154.3"><tspan class="bi">Taeniura lymna</tspan> (MUSC22091001)</text></g>
<g id="B-l65"><text class="lbb" x="495.7" y="1162.7"><tspan class="bi">Taeniura lymna</tspan> (MUSC22091002)</text></g>
<g id="B-l66"><text class="lb" x="496" y="1172.3"><tspan class="i">Taeniura lymma</tspan> (KM073038)</text></g>
<g id="B-l67"><text class="lb" x="157.7" y="1242.9" style="font-size:7.3px">Outgroup (<tspan class="i">Chiloscyllium griseum</tspan> JQ518744)</text></g>
</g>
</svg>
